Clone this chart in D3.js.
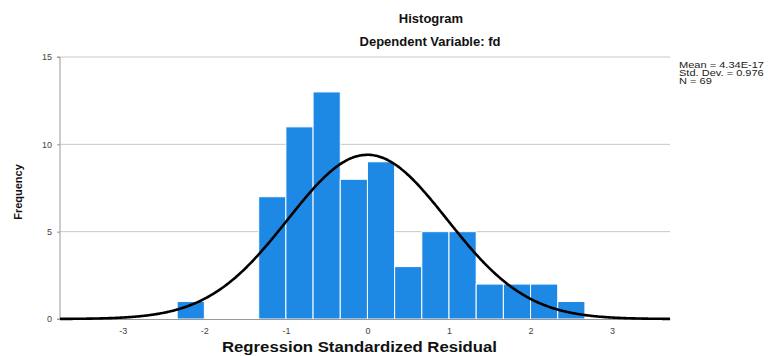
<!DOCTYPE html>
<html>
<head>
<meta charset="utf-8">
<script src="https://cdn.jsdelivr.net/npm/d3@7"></script>
<style>
  body { margin: 0; background: #fff; }
  text { font-family: "Liberation Sans", Arial, sans-serif; }
</style>
</head>
<body>
<svg id="chart" width="768" height="356"></svg>
<script>
// bins of width 1/3 on the standardized residual
const binStarts = [-7/3, -4/3, -1, -2/3, -1/3, 0, 1/3, 2/3, 1, 4/3, 5/3, 2, 7/3];
const counts = [1, 7, 11, 13, 8, 9, 3, 5, 5, 2, 2, 2, 1];
const binWidth = 1 / 3;
const xTicks = [-3, -2, -1, 0, 1, 2, 3];
const yTicks = [0, 5, 10, 15];
const stats = { mean: 4.34e-17, sd: 0.976, n: 69 };
const statLines = ["Mean = 4.34E-17", "Std. Dev. = 0.976", "N = 69"];

const svg = d3.select("#chart");
const plotLeft = 60, plotRight = 670, plotTop = 57, plotBottom = 319;

const x = d3.scaleLinear().domain([-3.77, 3.71]).range([plotLeft, plotRight]);
const y = d3.scaleLinear().domain([0, 15]).range([plotBottom, plotTop]);

// grid lines
svg.append("g")
    .selectAll("line")
    .data(yTicks.filter(d => d > 0))
    .join("line")
    .attr("x1", plotLeft).attr("x2", plotRight)
    .attr("y1", d => y(d)).attr("y2", d => y(d))
    .attr("stroke", "#c8c8c8").attr("stroke-width", 1);

// bars
svg.append("g")
    .selectAll("rect")
    .data(binStarts.map((s, i) => ({ s, c: counts[i] })))
    .join("rect")
    .attr("x", d => x(d.s))
    .attr("width", d => x(d.s + binWidth) - x(d.s))
    .attr("y", d => y(d.c))
    .attr("height", d => y(0) - y(d.c))
    .attr("fill", "#1e88e5")
    .attr("stroke", "#ffffff")
    .attr("stroke-width", 1);

// y axis
const yAxis = d3.axisLeft(y).tickValues(yTicks).tickSize(3).tickPadding(5);
const gy = svg.append("g").attr("transform", `translate(${plotLeft},0)`).call(yAxis);
gy.select(".domain").attr("stroke", "#999").attr("d", `M-3,${plotTop}H0V${plotBottom}H-3`);
gy.selectAll(".tick line").attr("stroke", "#999");
gy.selectAll(".tick text").attr("fill", "#444").style("font-size", "9px");

// x axis, plain hyphen for negatives like the original
const xAxis = d3.axisBottom(x).tickValues(xTicks).tickSize(0).tickPadding(9)
    .tickFormat(d => String(d));
const gx = svg.append("g").attr("transform", `translate(0,${plotBottom})`).call(xAxis);
gx.select(".domain").attr("stroke", "#999");
gx.selectAll(".tick text").attr("fill", "#444").style("font-size", "9px");

// normal curve
const pdf = v => Math.exp(-0.5 * ((v - stats.mean) / stats.sd) ** 2) / (stats.sd * Math.sqrt(2 * Math.PI));
const curveX = d3.range(400).map(i => -3.77 + i * (3.71 + 3.77) / 399);
svg.append("path")
    .datum(curveX)
    .attr("fill", "none")
    .attr("stroke", "#000")
    .attr("stroke-width", 2.6)
    .attr("d", d3.line().x(d => x(d)).y(d => y(stats.n * binWidth * pdf(d))).curve(d3.curveBasis));

// titles
svg.append("text").attr("x", 431).attr("y", 23).attr("text-anchor", "middle")
    .style("font-size", "13px").style("font-weight", "bold").attr("fill", "#111").text("Histogram");
svg.append("text").attr("x", 430).attr("y", 46).attr("text-anchor", "middle")
    .style("font-size", "13px").style("font-weight", "bold").attr("fill", "#111").text("Dependent Variable: fd");

svg.append("text").attr("x", 222).attr("y", 352)
    .attr("textLength", 275).attr("lengthAdjust", "spacingAndGlyphs")
    .style("font-size", "14px").style("font-weight", "bold").attr("fill", "#111")
    .text("Regression Standardized Residual");

svg.append("text").attr("transform", "translate(22,192) rotate(-90)").attr("text-anchor", "middle")
    .style("font-size", "11px").style("font-weight", "bold").attr("fill", "#111").text("Frequency");

// stats box
svg.append("g")
    .attr("transform", "translate(679,0) scale(1.3,1)")
    .selectAll("text")
    .data(statLines)
    .join("text")
    .attr("x", 0)
    .attr("y", (d, i) => 68 + i * 8)
    .style("font-size", "8.5px")
    .attr("fill", "#222")
    .text(d => d);
</script>
</body>
</html>
